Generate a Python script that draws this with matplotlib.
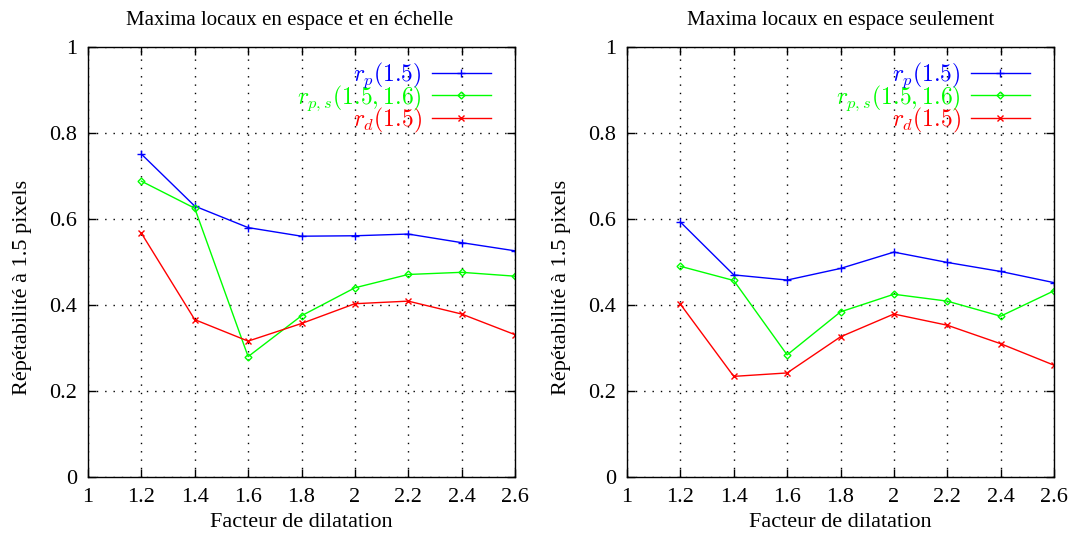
import matplotlib
matplotlib.use("Agg")
import matplotlib.pyplot as plt

plt.rcParams['font.family'] = ['Liberation Serif', 'DejaVu Serif']
plt.rcParams['mathtext.fontset'] = 'cm'

# données
facteurs = [1.2, 1.4, 1.6, 1.8, 2.0, 2.2, 2.4, 2.6]

# espace et échelle
rp_ee = [0.751, 0.630, 0.580, 0.560, 0.561, 0.565, 0.545, 0.526]
rps_ee = [0.688, 0.625, 0.280, 0.375, 0.440, 0.471, 0.476, 0.467]
rd_ee = [0.567, 0.366, 0.316, 0.357, 0.403, 0.409, 0.379, 0.331]

# espace seulement
rp_e = [0.593, 0.470, 0.458, 0.485, 0.523, 0.499, 0.478, 0.452]
rps_e = [0.490, 0.457, 0.284, 0.384, 0.425, 0.409, 0.374, 0.433]
rd_e = [0.402, 0.234, 0.242, 0.326, 0.379, 0.353, 0.310, 0.260]

titres = ['Maxima locaux en espace et en échelle', 'Maxima locaux en espace seulement']
xticks = [1, 1.2, 1.4, 1.6, 1.8, 2, 2.2, 2.4, 2.6]
xlabels = ['1', '1.2', '1.4', '1.6', '1.8', '2', '2.2', '2.4', '2.6']
yticks = [0, 0.2, 0.4, 0.6, 0.8, 1]
ylabels = ['0', '0.2', '0.4', '0.6', '0.8', '1']

W, H = 1071, 533
fig = plt.figure(figsize=(W / 100, H / 100), dpi=100)
ax1 = fig.add_axes([88 / W, 1 - 477 / H, 427 / W, 430 / H])
ax2 = fig.add_axes([627 / W, 1 - 477 / H, 427 / W, 430 / H])

series = [(rp_ee, rps_ee, rd_ee), (rp_e, rps_e, rd_e)]
titre_x = [0.473, 0.5]

for ax, (rp, rps, rd), titre, tx in zip([ax1, ax2], series, titres, titre_x):
    ax.plot(facteurs, rp, color='#0000ff', lw=1, marker='+', ms=6, mew=1,
            label=r'$r_p(1.5)$')
    ax.plot(facteurs, rps, color='#00ff00', lw=1, marker='D', ms=3.5, mew=1,
            mfc='none', label=r'$r_{p,s}(1.5,1.6)$')
    ax.plot(facteurs, rd, color='#ff0000', lw=1, marker='x', ms=5, mew=1,
            label=r'$r_d(1.5)$')
    ax.set_xlim(1, 2.6)
    ax.set_ylim(0, 1)
    ax.set_xticks(xticks, xlabels)
    ax.set_yticks(yticks, ylabels)
    ax.tick_params(direction='in', length=6, width=1, top=True, right=True,
                   labelsize=16, pad=8)
    ax.grid(True, color='black', linestyle=(0, (1, 5)), lw=1)
    for s in ax.spines.values():
        s.set_linewidth(1)
    ax.set_title(titre, fontsize=15, pad=16, x=tx)
    ax.set_xlabel('Facteur de dilatation', fontsize=16, labelpad=4)
    ax.set_ylabel('Répétabilité à 1.5 pixels', fontsize=16)
    ax.yaxis.set_label_coords(-0.131, 0.44)
    leg = ax.legend(loc='upper right', bbox_to_anchor=(0.965, 0.99),
                    frameon=False, markerfirst=False, fontsize=17,
                    handlelength=2.5, handletextpad=0.4, labelspacing=-0.3,
                    borderaxespad=0)
    for txt, c in zip(leg.get_texts(), ['#0000ff', '#00ff00', '#ff0000']):
        txt.set_color(c)

fig.savefig('out.png', dpi=100)
